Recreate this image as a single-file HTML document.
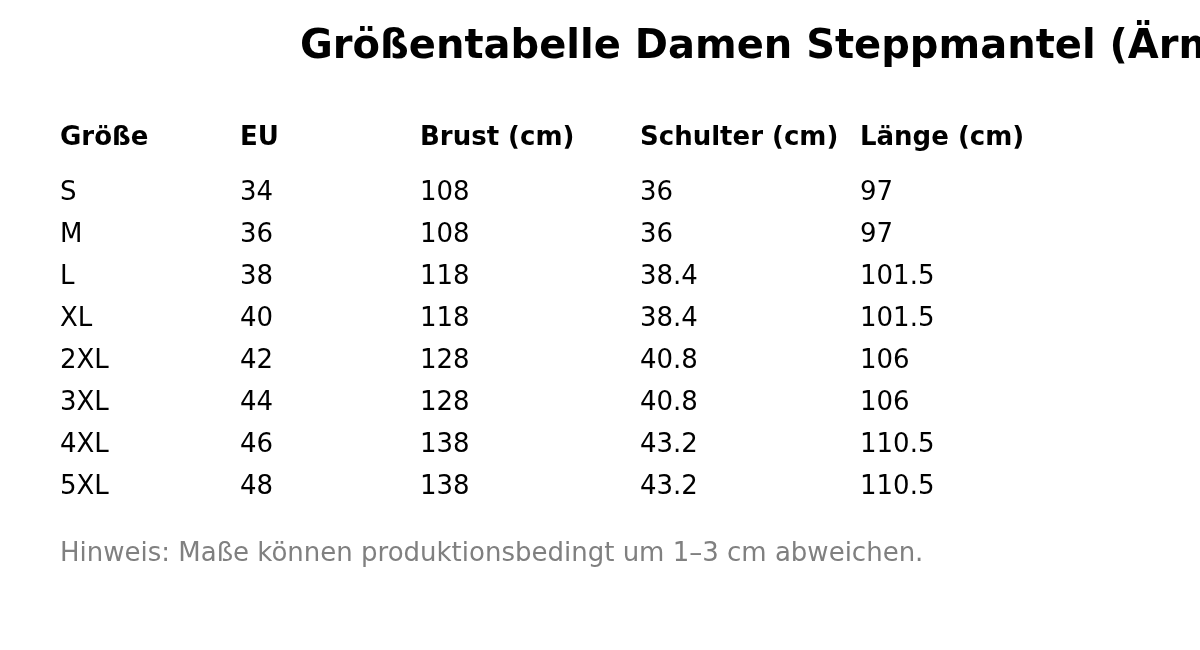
<!DOCTYPE html>
<html lang="de">
<head>
<meta charset="utf-8">
<title>Größentabelle Damen Steppmantel</title>
<style>
html,body{margin:0;padding:0;background:#fff;}
body{width:1200px;height:650px;position:relative;overflow:hidden;font-family:"DejaVu Sans","Liberation Sans",sans-serif;color:#000;}
.t{position:absolute;white-space:nowrap;line-height:1;margin:0;padding:0;}
h1.t{font-size:40px;font-weight:bold;left:300px;top:24px;}
.h{font-size:26px;font-weight:bold;}
.c{font-size:26px;font-weight:normal;}
.n{font-size:26px;color:#808080;left:60px;top:539px;}
</style>
</head>
<body>
<h1 class="t">Größentabelle Damen Steppmantel (Ärmellos)</h1>

<div class="t h" style="left:60px;top:123px">Größe</div>
<div class="t h" style="left:240px;top:123px">EU</div>
<div class="t h" style="left:420px;top:123px">Brust (cm)</div>
<div class="t h" style="left:640px;top:123px">Schulter (cm)</div>
<div class="t h" style="left:860px;top:123px">Länge (cm)</div>
<div class="t c" style="left:60px;top:178px">S</div>
<div class="t c" style="left:240px;top:178px">34</div>
<div class="t c" style="left:420px;top:178px">108</div>
<div class="t c" style="left:640px;top:178px">36</div>
<div class="t c" style="left:860px;top:178px">97</div>
<div class="t c" style="left:60px;top:220px">M</div>
<div class="t c" style="left:240px;top:220px">36</div>
<div class="t c" style="left:420px;top:220px">108</div>
<div class="t c" style="left:640px;top:220px">36</div>
<div class="t c" style="left:860px;top:220px">97</div>
<div class="t c" style="left:60px;top:262px">L</div>
<div class="t c" style="left:240px;top:262px">38</div>
<div class="t c" style="left:420px;top:262px">118</div>
<div class="t c" style="left:640px;top:262px">38.4</div>
<div class="t c" style="left:860px;top:262px">101.5</div>
<div class="t c" style="left:60px;top:304px">XL</div>
<div class="t c" style="left:240px;top:304px">40</div>
<div class="t c" style="left:420px;top:304px">118</div>
<div class="t c" style="left:640px;top:304px">38.4</div>
<div class="t c" style="left:860px;top:304px">101.5</div>
<div class="t c" style="left:60px;top:346px">2XL</div>
<div class="t c" style="left:240px;top:346px">42</div>
<div class="t c" style="left:420px;top:346px">128</div>
<div class="t c" style="left:640px;top:346px">40.8</div>
<div class="t c" style="left:860px;top:346px">106</div>
<div class="t c" style="left:60px;top:388px">3XL</div>
<div class="t c" style="left:240px;top:388px">44</div>
<div class="t c" style="left:420px;top:388px">128</div>
<div class="t c" style="left:640px;top:388px">40.8</div>
<div class="t c" style="left:860px;top:388px">106</div>
<div class="t c" style="left:60px;top:430px">4XL</div>
<div class="t c" style="left:240px;top:430px">46</div>
<div class="t c" style="left:420px;top:430px">138</div>
<div class="t c" style="left:640px;top:430px">43.2</div>
<div class="t c" style="left:860px;top:430px">110.5</div>
<div class="t c" style="left:60px;top:472px">5XL</div>
<div class="t c" style="left:240px;top:472px">48</div>
<div class="t c" style="left:420px;top:472px">138</div>
<div class="t c" style="left:640px;top:472px">43.2</div>
<div class="t c" style="left:860px;top:472px">110.5</div>
<div class="t n">Hinweis: Maße können produktionsbedingt um 1–3 cm abweichen.</div>
</body>
</html>
